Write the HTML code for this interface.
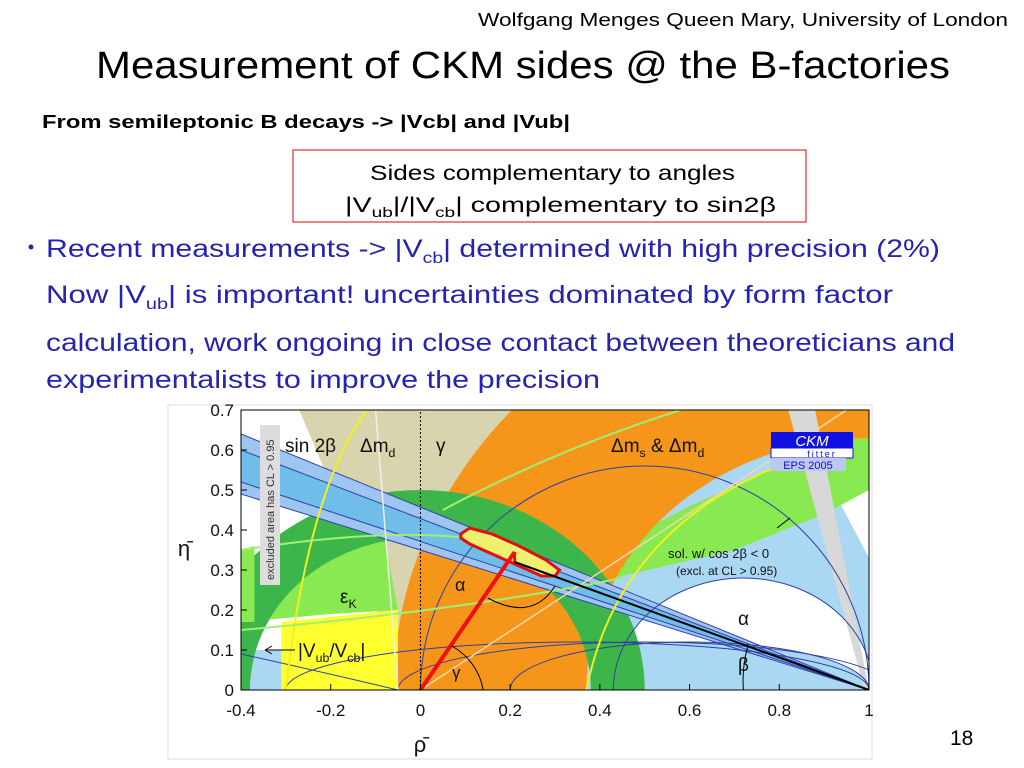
<!DOCTYPE html>
<html><head><meta charset="utf-8"><style>
html,body{margin:0;padding:0;background:#fff;width:1024px;height:768px;overflow:hidden}
svg{display:block;overflow:hidden}
.t{font-family:"Liberation Sans","DejaVu Sans",sans-serif}
</style></head><body>
<svg id="s" width="1024" height="768" viewBox="0 0 1024 768" xmlns="http://www.w3.org/2000/svg">
<text class="t" x="478" y="26" font-size="18" textLength="530" lengthAdjust="spacingAndGlyphs">Wolfgang Menges Queen Mary, University of London</text>
<text class="t" x="96" y="78" font-size="38" textLength="854" lengthAdjust="spacingAndGlyphs">Measurement of CKM sides @ the B-factories</text>
<text class="t" x="42" y="128" font-size="18" font-weight="bold" textLength="528" lengthAdjust="spacingAndGlyphs">From semileptonic B decays -&gt; |Vcb| and |Vub|</text>
<rect x="293" y="150" width="513" height="72" fill="none" stroke="#e03030" stroke-width="1.2"/>
<text class="t" x="370" y="180" font-size="21" textLength="365" lengthAdjust="spacingAndGlyphs">Sides complementary to angles</text>
<text class="t" x="345" y="212" font-size="21" textLength="431" lengthAdjust="spacingAndGlyphs">|V<tspan font-size="14" dy="5">ub</tspan><tspan dy="-5">|/|V</tspan><tspan font-size="14" dy="5">cb</tspan><tspan dy="-5">| complementary to sin2β</tspan></text>
<g fill="#2424b0" class="t" font-size="25">
<circle cx="31" cy="247" r="2.5"/>
<text x="46" y="257" textLength="894" lengthAdjust="spacingAndGlyphs">Recent measurements  -&gt; |V<tspan font-size="16" dy="6">cb</tspan><tspan dy="-6">| determined with high precision (2%)</tspan></text>
<text x="46" y="303" textLength="847" lengthAdjust="spacingAndGlyphs">Now |V<tspan font-size="16" dy="6">ub</tspan><tspan dy="-6">| is important! uncertainties dominated by  form factor</tspan></text>
<text x="46" y="351" textLength="909" lengthAdjust="spacingAndGlyphs">calculation, work ongoing in close contact between theoreticians and</text>
<text x="46" y="388" textLength="554" lengthAdjust="spacingAndGlyphs">experimentalists to improve the precision</text>
</g>
<text class="t" x="950" y="745" font-size="21">18</text>
<rect x="168" y="405" width="704" height="354" fill="#fff" stroke="#ddd"/>
<g id="chart"></g>
</svg>
<script>
const xTicks=[-0.4,-0.2,0,0.2,0.4,0.6,0.8,1];
const xTickLabels=["-0.4","-0.2","0","0.2","0.4","0.6","0.8","1"];
const yTicks=[0,0.1,0.2,0.3,0.4,0.5,0.6,0.7];
const yTickLabels=["0","0.1","0.2","0.3","0.4","0.5","0.6","0.7"];
const apex=[0.21,0.345];
const contour=[[0.09,0.39],[0.11,0.405],[0.16,0.39],[0.22,0.36],[0.28,0.325],[0.31,0.3],[0.3,0.285],[0.27,0.285],[0.22,0.31],[0.17,0.335],[0.11,0.365],[0.09,0.38]];
const X0=-0.4,X1=1,Y0=0,Y1=0.7;
const PL=241,PR=869,PT=410,PB=690;
const sx=v=>PL+(v-X0)/(X1-X0)*(PR-PL);
const sy=v=>PB-(v-Y0)/(Y1-Y0)*(PB-PT);
const NS="http://www.w3.org/2000/svg";
const G=document.getElementById('chart');
function el(tag,attrs,parent){const e=document.createElementNS(NS,tag);for(const k in attrs)e.setAttribute(k,attrs[k]);(parent||G).appendChild(e);return e;}
const pts=a=>a.map(p=>sx(p[0])+','+sy(p[1])).join(' ');
const ux=sx(1)-sx(0), uy=sy(0)-sy(1);
// upper half ellipse path (eta >= 0)
function halfE(cx,rx,ry){const a=sx(cx),b=sy(0);return `M${a-rx*ux},${b} A${rx*ux},${ry*uy} 0 0,1 ${a+rx*ux},${b} Z`;}
function halfArc(cx,rx,ry){const a=sx(cx),b=sy(0);return `M${a-rx*ux},${b} A${rx*ux},${ry*uy} 0 0,1 ${a+rx*ux},${b}`;}
function halfAnn(cx,r1,r2){const a=sx(cx),b=sy(0);return `M${a-r2*ux},${b} A${r2*ux},${r2*uy} 0 0,1 ${a+r2*ux},${b} L${a+r1*ux},${b} A${r1*ux},${r1*uy} 0 0,0 ${a-r1*ux},${b} Z`;}
const defs=el('defs',{});
const cp=el('clipPath',{id:'pc'},defs);el('rect',{x:PL,y:PT,width:PR-PL,height:PB-PT},cp);
const inner=el('clipPath',{id:'inr'},defs);el('path',{d:halfE(0,0.38,0.38)},inner);
const P=el('g',{'clip-path':'url(#pc)'});
let e;
e=el('polygon',{points:pts([[-0.4,0],[-0.31,0],[-0.31,0.1],[-0.4,0.1]]),fill:'#aad8f2'},P);

e=el('polygon',{points:pts([[0.36,0],[1,0],[1,0.7],[0.36,0.7]]),fill:'#aad8f2'},P);

e=el('polygon',{points:pts([[0.88,0.7],[1,0.7],[1,0.33],[0.92,0.5]]),fill:'#fff'},P);
e=el('path',{d:halfE(0.72,0.29,0.28),fill:'#fff'},P);
e=el('path',{d:halfE(0.6,0.4,0.12),fill:'#aad8f2'},P);
e=el('polygon',{points:pts([[-0.27,0.7],[0.23,0.7],[0.03,0],[-0.05,0],[-0.12,0.3]]),fill:'#d8d4ae'},P);

e=el('polygon',{points:pts([[0.43,0.28],[0.7,0.35],[0.9,0.44],[1,0.5],[1,0.66],[0.95,0.64],[0.8,0.56],[0.6,0.46],[0.43,0.36]]),fill:'#88ea50'},P);

e=el('path',{d:halfAnn(1,0.63,1.06),fill:'#f5961a'},P);

e=el('path',{d:halfAnn(0,0.38,0.5),fill:'#3cb54a'},P);

const ig=el('g',{'clip-path':'url(#inr)'},P);
e=el('polygon',{points:pts([[-0.4,0.17],[-0.2,0.19],[-0.05,0.2],[-0.08,0.38],[-0.4,0.36]]),fill:'#88ea50'},ig);

e=el('polygon',{points:pts([[-0.4,0.17],[-0.37,0.17],[-0.37,0.36],[-0.4,0.35]]),fill:'#88ea50'},P);
e=el('polygon',{points:pts([[-0.31,0],[-0.05,0],[-0.05,0.2],[-0.31,0.17]]),fill:'#ffff30'},P);

e=el('polygon',{points:pts([[0.82,0.7],[0.88,0.7],[1,0],[0.99,0]]),fill:'#d8d8d8'},P);

e=el('polygon',{points:pts([[1,0],[-0.4,0.64],[-0.4,0.49]]),fill:'#9ec4f0'},P);

e=el('polygon',{points:pts([[1,0],[-0.4,0.6],[-0.4,0.52]]),fill:'#6fbde8'},P);
[[0.64],[0.6],[0.52],[0.49]].forEach(v=>el('line',{x1:sx(1),y1:sy(0),x2:sx(-0.4),y2:sy(v[0]),stroke:'#3040b0','stroke-width':1},P));
[[0.5,0.5,0.56],[0.5,0.55,0.12],[0.72,0.29,0.28],[0.35,0.65,0.12],[0.6,0.4,0.12]].forEach(a=>el('path',{d:halfArc(a[0],a[1],a[2]),fill:'none',stroke:'#3040a0','stroke-width':1},P));
el('path',{d:`M${sx(-0.4)},${sy(0.09)} Q${sx(-0.2)},${sy(0.04)} ${sx(-0.05)},${sy(0)}`,fill:'none',stroke:'#3040a0'},P);
el('path',{d:`M${sx(-0.3)},${sy(0)} Q${sx(-0.25)},${sy(0.5)} ${sx(-0.12)},${sy(0.7)}`,fill:'none',stroke:'#f0f020','stroke-width':2},P);
el('path',{d:`M${sx(0.37)},${sy(0)} Q${sx(0.45)},${sy(0.45)} ${sx(0.9)},${sy(0.6)}`,fill:'none',stroke:'#f0f020','stroke-width':2},P);
el('path',{d:`M${sx(-0.4)},${sy(0.35)} Q${sx(0)},${sy(0.42)} ${sx(0.2)},${sy(0.36)}`,fill:'none',stroke:'#a0f070','stroke-width':2},P);
el('path',{d:`M${sx(0.05)},${sy(0.45)} Q${sx(0.3)},${sy(0.6)} ${sx(0.58)},${sy(0.7)}`,fill:'none',stroke:'#a0f070','stroke-width':2},P);
el('path',{d:`M${sx(-0.4)},${sy(0.15)} Q${sx(0.1)},${sy(0.2)} ${sx(0.45)},${sy(0.28)}`,fill:'none',stroke:'#a0f070','stroke-width':2},P);
el('line',{x1:sx(-0.1),y1:sy(0.7),x2:sx(-0.05),y2:sy(0),stroke:'#eee','stroke-width':1.5},P);
el('line',{x1:sx(0),y1:sy(0),x2:sx(0.95),y2:sy(0.7),stroke:'#f0d8b0','stroke-width':1.5},P);
el('line',{x1:sx(0),y1:sy(0),x2:sx(0),y2:sy(0.7),stroke:'#000','stroke-dasharray':'2,2','stroke-width':1},P);
e=el('polygon',{points:pts(contour),fill:'#f0f070',stroke:'#e01010','stroke-width':3},P);

e=el('line',{x1:sx(0),y1:sy(0),x2:sx(apex[0]),y2:sy(apex[1]),stroke:'#ee1010','stroke-width':4},P);

el('line',{x1:sx(apex[0]),y1:sy(apex[1]),x2:sx(apex[0]),y2:sy(0.32),stroke:'#ee1010','stroke-width':3},P);
e=el('line',{x1:sx(apex[0]),y1:sy(0.32),x2:sx(1),y2:sy(0),stroke:'#000','stroke-width':2},P);

el('path',{d:`M${sx(0.14)},${sy(0)} A${0.14*ux},${0.14*ux} 0 0,0 ${sx(0.07)},${sy(0.11)}`,fill:'none',stroke:'#000'},P);
el('path',{d:`M${sx(0.72)},${sy(0)} A${0.28*ux},${0.28*ux} 0 0,1 ${sx(0.73)},${sy(0.11)}`,fill:'none',stroke:'#000'},P);
el('path',{d:`M${sx(0.15)},${sy(0.23)} Q${sx(0.25)},${sy(0.17)} ${sx(0.3)},${sy(0.26)}`,fill:'none',stroke:'#000'},P);
e=el('rect',{x:771,y:432,width:82,height:16,fill:'#1010e0'},P);

el('rect',{x:771,y:448,width:82,height:10,fill:'#fff',stroke:'#1010e0'},P);
el('rect',{x:771,y:458,width:75,height:13,fill:'#bcc8f0'},P);
function txt(x,y,s,size,attrs,parent){const t=el('text',Object.assign({x:x,y:y,'font-size':size,class:'t'},attrs||{}),parent||G);t.textContent=s;return t;}
function sub(x,y,parts,size){const t=el('text',{x:x,y:y,'font-size':size,class:'t',fill:'#111'},P);parts.forEach((p,i)=>{const s=el('tspan',p[1]?{'font-size':size*0.65,dy:5}:{dy:(i>0&&parts[i-1][1])?-5:0},t);s.textContent=p[0];});return t;}
txt(812,446,'CKM',15,{fill:'#fff','font-style':'italic','text-anchor':'middle'},P);
txt(822,457,'fitter',9,{fill:'#1010e0','letter-spacing':'2','text-anchor':'middle'},P);
txt(808,469,'EPS 2005',11,{fill:'#1010e0','text-anchor':'middle'},P);
txt(285,452,'sin 2β',19,{fill:'#111'},P);
sub(360,452,[['Δm'],['d',1]],19);
txt(436,452,'γ',19,{fill:'#111'},P);
sub(611,452,[['Δm'],['s',1],[' & Δm'],['d',1]],19);
sub(340,603,[['ε'],['K',1]],19);
sub(298,657,[['|V'],['ub',1],['/V'],['cb',1],['|']],19);
txt(455,591,'α',18,{fill:'#111'},P);
txt(738,625,'α',19,{fill:'#111'},P);
txt(738,671,'β',19,{fill:'#111'},P);
txt(452,678,'γ',17,{fill:'#111'},P);
txt(668,558,'sol. w/ cos 2β < 0',13,{fill:'#111'},P);
txt(676,575,'(excl. at CL > 0.95)',12,{fill:'#111'},P);
el('line',{x1:265,y1:650,x2:295,y2:650,stroke:'#000'},P);
el('path',{d:'M265,650 l7,-4 M265,650 l7,4',stroke:'#000',fill:'none'},P);
el('line',{x1:777,y1:528,x2:790,y2:518,stroke:'#000'},P);
el('rect',{x:260,y:425,width:20,height:160,fill:'#ddd'},P);
txt(0,0,'excluded area has CL > 0.95',11,{fill:'#333',transform:'translate(274,580) rotate(-90)'},P);
el('rect',{x:PL,y:PT,width:PR-PL,height:PB-PT,fill:'none',stroke:'#000','stroke-width':1});
xTicks.forEach((v,i)=>{
  const t=el('line',{x1:sx(v),y1:PB,x2:sx(v),y2:PB-6,stroke:'#000'});
  
  const l=txt(sx(v),PB+26,xTickLabels[i],17,{'text-anchor':'middle',fill:'#111'});
  
});
yTicks.forEach((v,i)=>{
  const t=el('line',{x1:PL,y1:sy(v),x2:PL+6,y2:sy(v),stroke:'#000'});
  
  const l=txt(PL-7,sy(v)+6,yTickLabels[i],17,{'text-anchor':'end',fill:'#111'});
  
});
let xl=txt(420,752,'ρ̄',22,{'text-anchor':'middle',fill:'#111'});

let yl=txt(184,556,'η̄',22,{'text-anchor':'middle',fill:'#111'});

</script>
</body></html>
